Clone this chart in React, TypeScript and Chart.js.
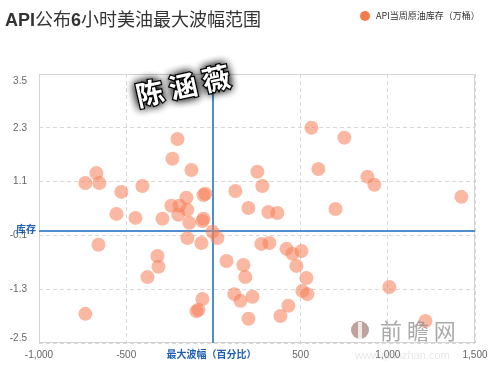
import React, { useEffect, useRef } from 'react';
import { Chart, registerables } from 'chart.js';
Chart.register(...registerables);

const TITLE_PARTS: [string, boolean][] = [['API', true], ['公布', false], ['6', true], ['小时美油最大波幅范围', false]];
const SERIES_NAME = 'API当周原油库存（万桶）';
const X_AXIS_LABEL = '最大波幅（百分比）';
const Y_AXIS_LABEL = '库存';
const STAMP = ['陈', '涵', '薇'];
const LOGO = '前瞻网';
const LOGO_URL = 'www.qianzhan.com';

const xTicks = [-1000, -500, 0, 500, 1000, 1500];
const yTicks = [-2.5, -1.3, -0.1, 1.1, 2.3, 3.5];

const xValues = [
  -206, -235, -126, -671, -734, -654, -407, -528, -155, -57, -46, -241, -195, -149, -201, -556, -447,
  -292, -138, -57, -63, -5, 126, 201, 252, 281, 562, 751, 602, 883, 923, 315, 367, 700, 1422, -149,
  -69, 23, -659, -321, -315, -378, 75, 172, 183, 120, 155, 224, -63, -97, -86, -734, 201, 275, 321,
  419, 453, 505, 476, 533, 510, 539, 430, 384, 1009, 1216,
];
const yValues = [
  2.05, 1.61, 1.36, 1.29, 1.07, 1.07, 1.0, 0.87, 0.74, 0.8, 0.83, 0.56, 0.56, 0.47, 0.36, 0.38, 0.29,
  0.27, 0.18, 0.27, 0.22, -0.02, 0.89, 0.51, 1.32, 1.0, 2.3, 2.08, 1.38, 1.21, 1.03, 0.42, 0.4, 0.49,
  0.76, -0.16, -0.27, -0.16, -0.31, -0.56, -0.8, -1.03, -0.67, -0.76, -1.03, -1.41, -1.56, -1.47,
  -1.52, -1.79, -1.76, -1.85, -1.96, -0.29, -0.27, -0.4, -0.51, -0.45, -0.78, -1.05, -1.34, -1.41,
  -1.67, -1.9, -1.25, -2.01,
];

const FONT = '"Liberation Sans", Arial, "Noto Sans CJK SC", sans-serif';
const CJK = '"Noto Sans CJK SC", "Liberation Sans", sans-serif';

const decorPlugin = {
  id: 'decor',
  beforeDatasetsDraw(chart: any) {
    const { ctx, chartArea: a, scales } = chart;
    ctx.save();
    ctx.strokeStyle = '#d4d4d4';
    ctx.lineWidth = 1;
    ctx.setLineDash([]);
    ctx.strokeRect(a.left + 0.5, a.top + 0.5, a.right - a.left - 1, a.bottom - a.top - 1);
    ctx.strokeStyle = '#4f8fcf';
    ctx.lineWidth = 2;
    const x0 = Math.round(scales.x.getPixelForValue(0));
    const y0 = Math.round(scales.y.getPixelForValue(0));
    ctx.beginPath();
    ctx.moveTo(x0, a.top);
    ctx.lineTo(x0, a.bottom);
    ctx.moveTo(a.left, y0);
    ctx.lineTo(a.right, y0);
    ctx.stroke();
    ctx.restore();
  },
  afterDraw(chart: any) {
    const { ctx, chartArea: a, scales } = chart;
    ctx.save();
    // y tick labels (kept inside the plot height like the reference)
    ctx.fillStyle = '#666';
    ctx.font = '10px ' + FONT;
    ctx.textAlign = 'right';
    ctx.textBaseline = 'middle';
    for (const v of yTicks) {
      const p = scales.y.getPixelForValue(v);
      const py = Math.min(Math.max(p, a.top + 7), a.bottom - 5);
      ctx.fillText(String(v), a.left - 12, py);
    }
    // title
    let tx = 5;
    ctx.textAlign = 'left';
    ctx.fillStyle = '#333';
    ctx.textBaseline = 'alphabetic';
    for (const [t, b] of TITLE_PARTS) {
      ctx.font = (b ? 'bold ' : '') + '18px ' + (b ? FONT : CJK);
      ctx.fillText(t, tx, 26);
      tx += ctx.measureText(t).width;
    }
    // legend
    ctx.fillStyle = '#f47a4e';
    ctx.beginPath();
    ctx.arc(365, 16, 5, 0, Math.PI * 2);
    ctx.fill();
    ctx.fillStyle = '#333';
    ctx.font = '9px ' + CJK;
    ctx.textBaseline = 'middle';
    ctx.fillText(SERIES_NAME, 376, 16);
    // plot line labels
    const x0 = scales.x.getPixelForValue(0);
    const y0 = scales.y.getPixelForValue(0);
    ctx.fillStyle = '#1f5fb4';
    ctx.font = 'bold 10px ' + CJK;
    ctx.textAlign = 'center';
    ctx.fillText(X_AXIS_LABEL, x0 - 2, 354);
    ctx.textAlign = 'left';
    ctx.font = 'bold 10px ' + CJK;
    ctx.fillText(Y_AXIS_LABEL, 16, y0 - 2);
    // logo watermark
    ctx.globalAlpha = 0.75;
    ctx.fillStyle = '#a8847c';
    ctx.beginPath();
    ctx.arc(360, 330, 9, 0, Math.PI * 2);
    ctx.fill();
    ctx.fillStyle = '#fff';
    ctx.fillRect(358, 322, 4, 17);
    ctx.fillStyle = '#8d8d8d';
    ctx.font = '22px ' + CJK;
    ctx.textAlign = 'left';
    ctx.textBaseline = 'middle';
    ctx.fillText(LOGO.split('').join(' '), 380, 331);
    ctx.globalAlpha = 0.35;
    ctx.fillStyle = '#bbb';
    ctx.font = '11px ' + FONT;
    ctx.fillText(LOGO_URL, 355, 356);
    ctx.globalAlpha = 1;
    // signature stamp
    ctx.translate(183, 86);
    ctx.rotate(-0.22);
    ctx.font = 'bold 28px ' + CJK;
    ctx.textAlign = 'center';
    ctx.textBaseline = 'middle';
    STAMP.forEach((c, i) => {
      const dx = (i - 1) * 34;
      ctx.shadowColor = 'rgba(0,0,0,0.9)';
      ctx.shadowBlur = 10;
      ctx.fillStyle = '#fff';
      ctx.fillText(c, dx, 0);
      ctx.fillText(c, dx, 0);
      ctx.fillText(c, dx, 0);
      ctx.shadowBlur = 0;
      ctx.strokeStyle = '#000';
      ctx.lineWidth = 2.5;
      ctx.strokeText(c, dx, 0);
      ctx.fillStyle = '#fff';
      ctx.fillText(c, dx, 0);
    });
    ctx.restore();
  },
};

export default function App() {
  const ref = useRef<HTMLCanvasElement>(null);
  useEffect(() => {
    document.body.style.margin = '0';
    const chart = new Chart(ref.current!, {
      type: 'scatter',
      data: {
        datasets: [
          {
            label: SERIES_NAME,
            data: xValues.map((x, i) => ({ x, y: yValues[i] })),
            backgroundColor: 'rgba(245,125,88,0.55)',
            borderWidth: 0,
            pointRadius: 7,
          },
        ],
      },
      options: {
        animation: false,
        responsive: false,
        layout: { padding: { top: 74, right: 25, left: 0, bottom: 0 } },
        plugins: { legend: { display: false }, title: { display: false }, tooltip: { enabled: false } },
        scales: {
          x: {
            type: 'linear',
            min: -1000,
            max: 1500,
            afterBuildTicks: (s: any) => {
              s.ticks = xTicks.map((v) => ({ value: v }));
            },
            afterFit: (s: any) => {
              s.height = 26;
            },
            grid: { color: '#d8d8d8', drawTicks: false },
            border: { display: false, dash: [4, 3] },
            ticks: {
              padding: 6,
              color: '#666',
              font: { size: 10, family: FONT },
              maxRotation: 0,
              callback: (v: any) => (v === 0 ? '' : Number(v).toLocaleString('en-US')),
            },
          },
          y: {
            type: 'linear',
            min: -2.5,
            max: 3.5,
            afterBuildTicks: (s: any) => {
              s.ticks = yTicks.map((v) => ({ value: v }));
            },
            afterFit: (s: any) => {
              s.width = 39;
            },
            grid: { color: '#d8d8d8', drawTicks: false },
            border: { display: false, dash: [4, 3] },
            ticks: { display: false },
          },
        },
      },
      plugins: [decorPlugin],
    });
    return () => chart.destroy();
  }, []);
  return (
    <div style={{ position: 'fixed', left: 0, top: 0, width: 500, height: 369, background: '#fff' }}>
      <canvas ref={ref} width={500} height={369} />
    </div>
  );
}
